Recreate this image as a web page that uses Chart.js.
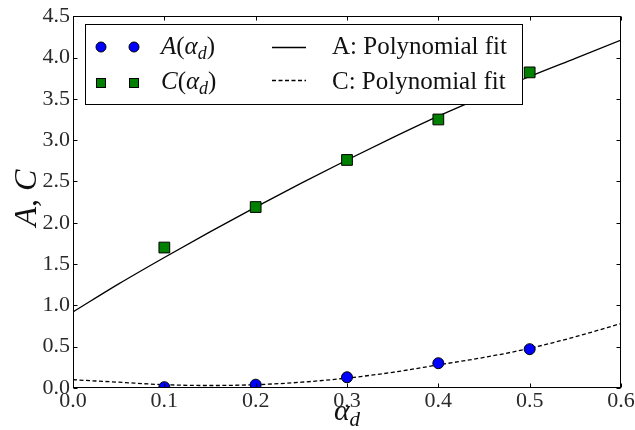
<!DOCTYPE html>
<html>
<head>
<meta charset="utf-8">
<script src="https://cdn.jsdelivr.net/npm/chart.js@4"></script>
<style>
  html, body { margin: 0; padding: 0; background: #fff; }
  #wrap { width: 635px; height: 430px; }
</style>
</head>
<body>
<div id="wrap"><canvas id="chart" width="635" height="430"></canvas></div>
<script>
// measured points
const alphaD = [0.1, 0.2, 0.3, 0.4, 0.5];
const aValues = [0.01, 0.04, 0.13, 0.30, 0.47];
const cValues = [1.70, 2.19, 2.76, 3.25, 3.82];

// fit curves
const fitX = [0.0, 0.05, 0.1, 0.15, 0.2, 0.25, 0.3, 0.35, 0.4, 0.45, 0.5, 0.55, 0.6];
const fitSolid = [0.92, 1.26, 1.58, 1.89, 2.19, 2.48, 2.76, 3.03, 3.29, 3.53, 3.77, 3.99, 4.21];
const fitDashed = [0.10, 0.07, 0.04, 0.03, 0.04, 0.07, 0.12, 0.19, 0.28, 0.37, 0.48, 0.62, 0.78];

const xTicks = [0.0, 0.1, 0.2, 0.3, 0.4, 0.5, 0.6];
const yTicks = [0.0, 0.5, 1.0, 1.5, 2.0, 2.5, 3.0, 3.5, 4.0, 4.5];

const SERIF = "'Liberation Serif', 'DejaVu Serif', serif";

function pts(xs, ys) {
  return xs.map((x, i) => ({ x: x, y: ys[i] }));
}

// draws text made of parts: [text, 'r' roman | 'i' italic | 's' italic subscript]
function drawMath(ctx, x, y, parts, size, align) {
  const fontFor = p => (p[1] === 'r' ? '' : 'italic ') +
    (p[1] === 's' ? Math.round(size * 0.7) : size) + 'px ' + SERIF;
  let w = 0;
  parts.forEach(p => { ctx.font = fontFor(p); w += ctx.measureText(p[0]).width; });
  let cx = align === 'center' ? x - w / 2 : x;
  ctx.textBaseline = 'alphabetic';
  ctx.textAlign = 'left';
  parts.forEach(p => {
    ctx.font = fontFor(p);
    ctx.fillText(p[0], cx, p[1] === 's' ? y + size * 0.2 : y);
    cx += ctx.measureText(p[0]).width;
  });
}

const framePlugin = {
  id: 'frame',
  afterDatasetsDraw(chart) {
    const { ctx, chartArea: a, scales } = chart;
    const L = Math.round(a.left) + 0.5, R = Math.round(a.right) - 0.5;
    const T = Math.round(a.top) + 0.5, B = Math.round(a.bottom) - 0.5;
    ctx.save();
    ctx.strokeStyle = '#000';
    ctx.lineWidth = 1;
    ctx.strokeRect(L, T, R - L, B - T);
    // inward ticks on all four sides
    ctx.beginPath();
    xTicks.forEach(v => {
      const px = Math.round(scales.x.getPixelForValue(v)) + 0.5;
      ctx.moveTo(px, B); ctx.lineTo(px, B - 4);
      ctx.moveTo(px, T); ctx.lineTo(px, T + 4);
    });
    yTicks.forEach(v => {
      const py = Math.round(scales.y.getPixelForValue(v)) + 0.5;
      ctx.moveTo(L, py); ctx.lineTo(L + 4, py);
      ctx.moveTo(R, py); ctx.lineTo(R - 4, py);
    });
    ctx.stroke();

    // axis titles
    ctx.fillStyle = '#111';
    drawMath(ctx, 347, 420, [['\u03b1', 'i'], ['d', 's']], 30, 'center');
    ctx.save();
    ctx.translate(36, 198);
    ctx.rotate(-Math.PI / 2);
    drawMath(ctx, 0, 0, [['A', 'i'], [', ', 'r'], ['C', 'i']], 32, 'center');
    ctx.restore();

    // legend
    ctx.fillStyle = '#fff';
    ctx.fillRect(85, 24, 437, 80);
    ctx.strokeStyle = '#000';
    ctx.strokeRect(85.5, 24.5, 437, 80);

    ctx.lineWidth = 1;
    [101, 134].forEach(mx => {
      ctx.beginPath();
      ctx.arc(mx, 47, 5, 0, Math.PI * 2);
      ctx.fillStyle = '#0000ff';
      ctx.fill();
      ctx.stroke();
      ctx.fillStyle = '#008000';
      ctx.fillRect(mx - 5, 78, 10, 10);
      ctx.strokeRect(mx - 5 + 0.5, 78.5, 9, 9);
    });
    ctx.fillStyle = '#111';
    drawMath(ctx, 161, 54, [['A', 'i'], ['(', 'r'], ['\u03b1', 'i'], ['d', 's'], [')', 'r']], 25);
    drawMath(ctx, 161, 89, [['C', 'i'], ['(', 'r'], ['\u03b1', 'i'], ['d', 's'], [')', 'r']], 25);
    drawMath(ctx, 332, 54, [['A: Polynomial fit', 'r']], 25);
    drawMath(ctx, 332, 89, [['C: Polynomial fit', 'r']], 25);

    ctx.lineWidth = 1.3;
    ctx.beginPath();
    ctx.moveTo(272, 47.5); ctx.lineTo(306, 47.5);
    ctx.stroke();
    ctx.setLineDash([4, 2.5]);
    ctx.beginPath();
    ctx.moveTo(272, 80.5); ctx.lineTo(306, 80.5);
    ctx.stroke();
    ctx.restore();
  }
};

const tickFont = { family: SERIF, size: 22 };

new Chart(document.getElementById('chart'), {
  type: 'scatter',
  data: {
    datasets: [
      {
        label: 'A(\u03b1d)',
        data: pts(alphaD, aValues),
        pointStyle: 'circle',
        pointRadius: 5.5,
        backgroundColor: '#0000ff',
        borderColor: '#000',
        borderWidth: 1,
        clip: 0,
        order: 0
      },
      {
        label: 'C(\u03b1d)',
        data: pts(alphaD, cValues),
        pointStyle: 'rect',
        pointRadius: 7.6,
        backgroundColor: '#008000',
        borderColor: '#000',
        borderWidth: 1,
        clip: 0,
        order: 0
      },
      {
        label: 'A: Polynomial fit',
        data: pts(fitX, fitSolid),
        showLine: true,
        pointRadius: 0,
        borderColor: '#000',
        borderWidth: 1.3,
        cubicInterpolationMode: 'monotone',
        clip: 0,
        order: 1
      },
      {
        label: 'C: Polynomial fit',
        data: pts(fitX, fitDashed),
        showLine: true,
        pointRadius: 0,
        borderColor: '#000',
        borderWidth: 1.3,
        borderDash: [4, 2.5],
        cubicInterpolationMode: 'monotone',
        clip: 0,
        order: 1
      }
    ]
  },
  options: {
    responsive: false,
    animation: false,
    events: [],
    layout: { padding: { top: 13, right: 14, left: 0, bottom: 0 } },
    plugins: {
      legend: { display: false },
      tooltip: { enabled: false }
    },
    scales: {
      x: {
        type: 'linear',
        min: 0,
        max: 0.6,
        grid: { display: false, drawTicks: false },
        border: { display: false },
        afterBuildTicks: s => { s.ticks = xTicks.map(v => ({ value: v })); },
        afterFit: s => { s.height = 42; },
        ticks: {
          font: tickFont,
          color: '#2a2a2a',
          padding: 0,
          maxRotation: 0,
          autoSkip: false,
          callback: v => v.toFixed(1)
        }
      },
      y: {
        min: 0,
        max: 4.5,
        grid: { display: false, drawTicks: false },
        border: { display: false },
        afterBuildTicks: s => { s.ticks = yTicks.map(v => ({ value: v })); },
        afterFit: s => { s.width = 73; },
        ticks: {
          font: tickFont,
          color: '#2a2a2a',
          padding: 3,
          autoSkip: false,
          callback: v => v.toFixed(1)
        }
      }
    }
  },
  plugins: [framePlugin]
});
</script>
</body>
</html>
